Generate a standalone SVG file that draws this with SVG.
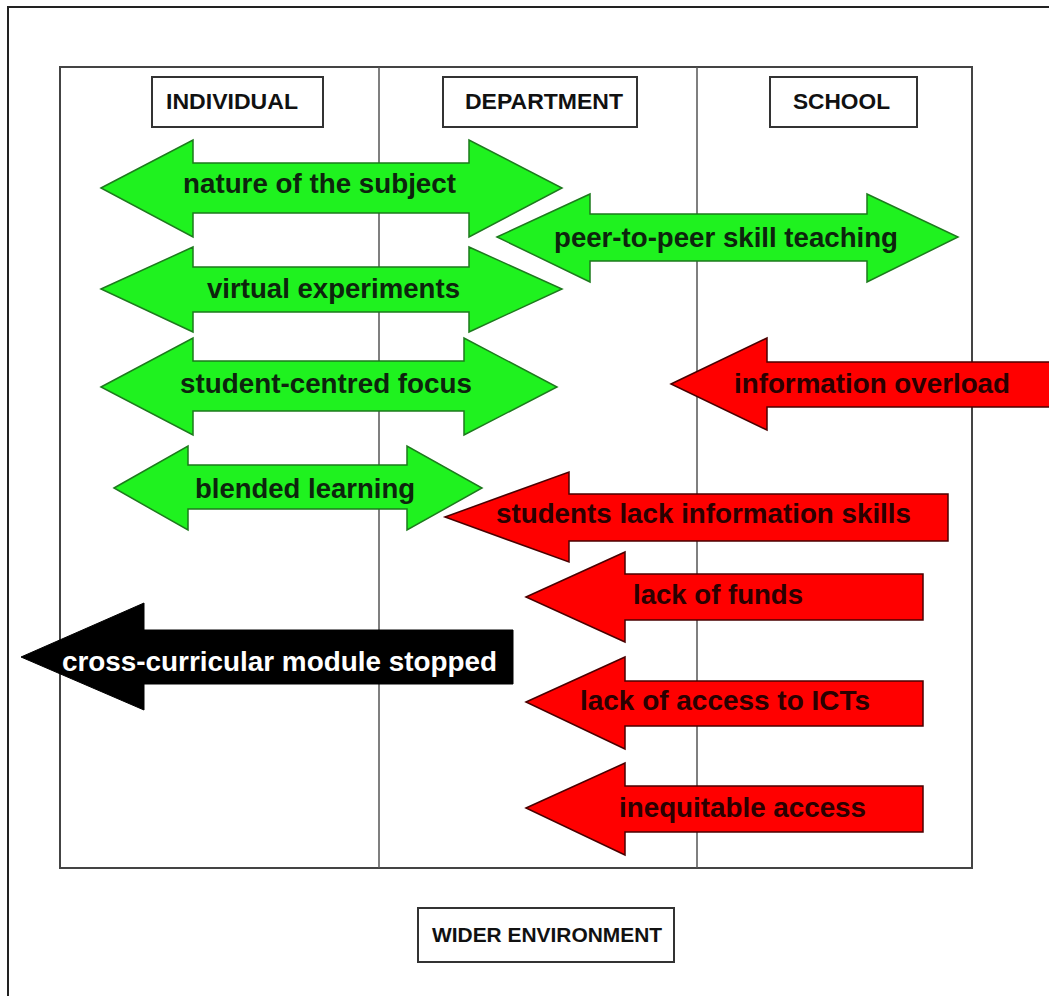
<svg xmlns="http://www.w3.org/2000/svg" width="1049" height="996" viewBox="0 0 1049 996">
<style>
.frame{fill:none;stroke:#222;stroke-width:2}
.inner{fill:none;stroke:#444;stroke-width:2}
.div{stroke:#555;stroke-width:1.5}
.hbox{fill:#fff;stroke:#333;stroke-width:2}
.htxt{font-family:"Liberation Sans",Arial,sans-serif;font-weight:bold;font-size:22.5px;fill:#111}
.green{fill:#1ff21f;stroke:#1d7a1d;stroke-width:1.5;stroke-linejoin:miter}
.red{fill:#ff0000;stroke:#4a0000;stroke-width:1.5}
.black{fill:#000;stroke:#000;stroke-width:1}
.at{font-family:"Liberation Sans",Arial,sans-serif;font-weight:bold;font-size:28px}
.gt{fill:#0d240d}
.rt{fill:#2a0000}
.wt{fill:#fff}
</style>
<rect x="0" y="0" width="1049" height="996" fill="#fff"/>
<g id="frame">
<rect class="frame" x="8" y="7" width="1060" height="1010"/>
<rect class="inner" x="60" y="67" width="912" height="801"/>
<line class="div" x1="379" y1="67" x2="379" y2="868"/>
<line class="div" x1="697" y1="67" x2="697" y2="868"/>
</g>
<g id="header-individual">
<rect class="hbox" x="152" y="77" width="171" height="50"/>
<text class="htxt" x="166" y="109" textLength="132" lengthAdjust="spacingAndGlyphs">INDIVIDUAL</text>
</g>
<g id="header-department">
<rect class="hbox" x="443" y="77" width="194" height="50"/>
<text class="htxt" x="465" y="109" textLength="158" lengthAdjust="spacingAndGlyphs">DEPARTMENT</text>
</g>
<g id="header-school">
<rect class="hbox" x="770" y="77" width="147" height="50"/>
<text class="htxt" x="793" y="109" textLength="97" lengthAdjust="spacingAndGlyphs">SCHOOL</text>
</g>
<g id="header-wider">
<rect class="hbox" x="418" y="908" width="256" height="54"/>
<text class="htxt" x="432" y="942" style="font-size:21px" textLength="230" lengthAdjust="spacingAndGlyphs">WIDER ENVIRONMENT</text>
</g>
<g id="connectors">
<g id="arrow-nature">
<path class="green" d="M101,188 L193,140 L193,163 L469,163 L469,140 L562,188 L469,237 L469,213 L193,213 L193,237 Z"/>
<text class="at gt" x="183" y="193" textLength="273" lengthAdjust="spacingAndGlyphs">nature of the subject</text>
</g>
<g id="arrow-peer">
<path class="green" d="M497,237 L590,194 L590,214 L867,214 L867,194 L958,237 L867,282 L867,261 L590,261 L590,282 Z"/>
<text class="at gt" x="554" y="247" textLength="344" lengthAdjust="spacingAndGlyphs">peer-to-peer skill teaching</text>
</g>
<g id="arrow-virtual">
<path class="green" d="M101,289 L193,247 L193,267 L469,267 L469,247 L562,289 L469,332 L469,312 L193,312 L193,332 Z"/>
<text class="at gt" x="207" y="298" textLength="253" lengthAdjust="spacingAndGlyphs">virtual experiments</text>
</g>
<g id="arrow-student">
<path class="green" d="M101,387 L193,338 L193,361 L464,361 L464,338 L557,387 L464,435 L464,411 L193,411 L193,435 Z"/>
<text class="at gt" x="180" y="393" textLength="292" lengthAdjust="spacingAndGlyphs">student-centred focus</text>
</g>
<g id="arrow-blended">
<path class="green" d="M114,488 L188,446 L188,465 L407,465 L407,446 L482,488 L407,530 L407,509 L188,509 L188,530 Z"/>
<text class="at gt" x="195" y="498" textLength="220" lengthAdjust="spacingAndGlyphs">blended learning</text>
</g>
<g id="arrow-overload">
<path class="red" d="M671,384 L767,338 L767,362 L1060,362 L1060,407 L767,407 L767,430 Z"/>
<text class="at rt" x="734" y="393" textLength="276" lengthAdjust="spacingAndGlyphs">information overload</text>
</g>
<g id="arrow-skills">
<path class="red" d="M445,517 L569,472 L569,494 L948,494 L948,541 L569,541 L569,562 Z"/>
<text class="at rt" x="496" y="523" textLength="415" lengthAdjust="spacingAndGlyphs">students lack information skills</text>
</g>
<g id="arrow-funds">
<path class="red" d="M526,597 L625,552 L625,574 L923,574 L923,620 L625,620 L625,642 Z"/>
<text class="at rt" x="633" y="604" textLength="170" lengthAdjust="spacingAndGlyphs">lack of funds</text>
</g>
<g id="arrow-cross">
<path class="black" d="M21,657 L144,603 L144,630 L513,630 L513,684 L144,684 L144,710 Z"/>
<text class="at wt" x="62" y="671" textLength="435" lengthAdjust="spacingAndGlyphs">cross-curricular module stopped</text>
</g>
<g id="arrow-access">
<path class="red" d="M526,702 L625,657 L625,681 L923,681 L923,726 L625,726 L625,749 Z"/>
<text class="at rt" x="580" y="710" textLength="290" lengthAdjust="spacingAndGlyphs">lack of access to ICTs</text>
</g>
<g id="arrow-inequitable">
<path class="red" d="M526,808 L625,763 L625,786 L923,786 L923,832 L625,832 L625,855 Z"/>
<text class="at rt" x="619" y="817" textLength="247" lengthAdjust="spacingAndGlyphs">inequitable access</text>
</g>
</g>
</svg>
